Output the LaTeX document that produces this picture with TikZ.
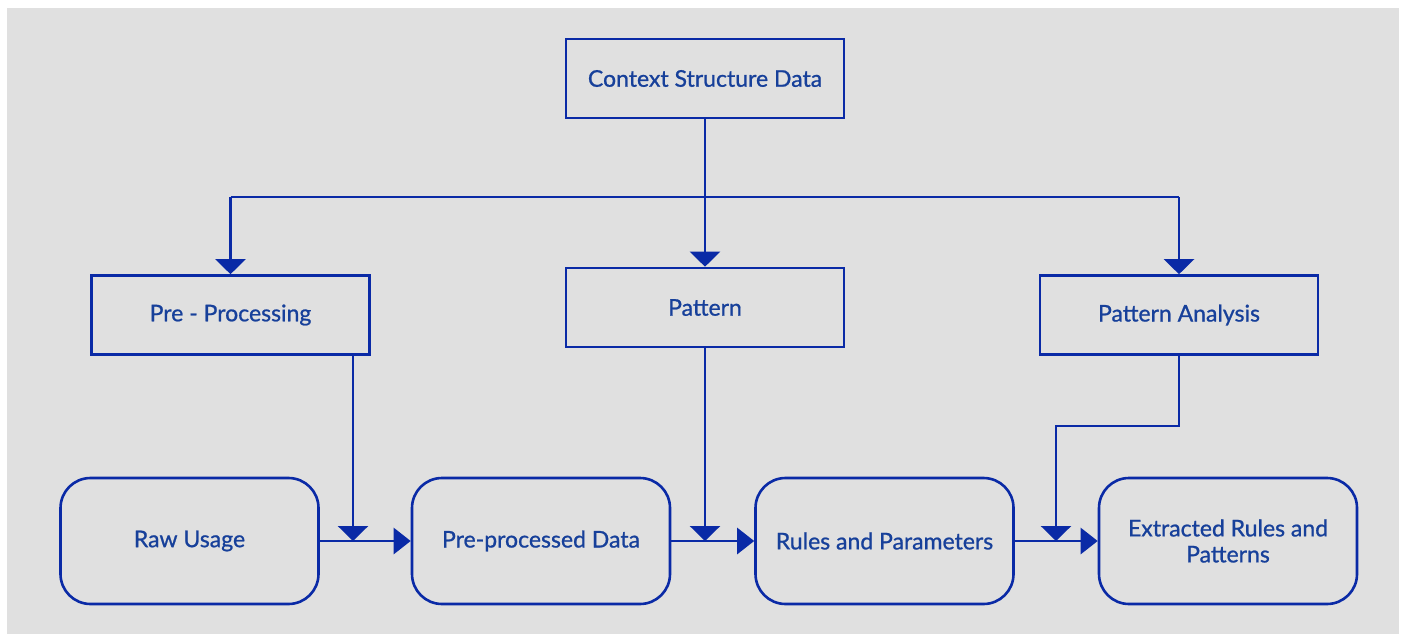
\documentclass[tikz,border=0pt]{standalone}
\usepackage{fontspec}
\newfontfamily\lbl{Lato}[FakeBold=0.9]
\usetikzlibrary{arrows.meta}
\definecolor{ln}{HTML}{0A2AA6}
\definecolor{tx}{HTML}{17409A}
\definecolor{bg}{HTML}{E0E0E0}
\begin{document}
\begin{tikzpicture}[x=1pt,y=-1pt,
  box/.style={draw=ln,line width=2.6pt,minimum width=278pt,minimum height=79pt,inner sep=0pt,text=tx,font=\lbl\fontsize{23}{26}\selectfont,align=center},
  rbox/.style={box,rounded corners=30pt,minimum width=258pt,minimum height=126pt},
  conn/.style={draw=ln,line width=2.6pt},
  arr/.style={conn,-{Triangle[width=30pt,length=15pt]}},
  harr/.style={conn,-{Triangle[width=26pt,length=17pt]}}]
\useasboundingbox (0,0) rectangle (1404,637);
\fill[bg] (7,8) rectangle (1399,634);
\node[box] (csd) at (705,78.5) {Context Structure Data};
\node[box] (pre) at (230.5,315) {Pre - Processing};
\node[box] (pat) at (705,307.5) {Pattern};
\node[box] (pa) at (1179,315) {Pattern Analysis};
\node[rbox] (raw) at (189.5,541) {Raw Usage};
\node[rbox] (ppd) at (541,541) {Pre-processed Data};
\node[rbox] (rp) at (884.5,541) {Rules and Parameters};
\node[rbox] (erp) at (1228,541) {Extracted Rules and\\Patterns};
\coordinate (j) at (705,197);
\coordinate (jl) at (230.5,197);
\coordinate (jr) at (1179,197);
\coordinate (b1) at (353,541);
\coordinate (b2) at (705,541);
\coordinate (b3) at (1056,541);
\coordinate (k) at (1056,426);
\draw[arr] (csd.south) -- (pat.north);
\draw[arr] (jl) -- (pre.north);
\draw[arr] (jr) -- (pa.north);
\draw[conn] (jl) -- (jr);
\draw[harr] (raw.east) -- (ppd.west);
\draw[harr] (ppd.east) -- (rp.west);
\draw[harr] (rp.east) -- (erp.west);
\draw[arr] (pre.south -| b1) -- (b1);
\draw[arr] (pat.south) -- (b2);
\draw[arr] (pa.south) |- (k) -- (b3);
\end{tikzpicture}
\end{document}
